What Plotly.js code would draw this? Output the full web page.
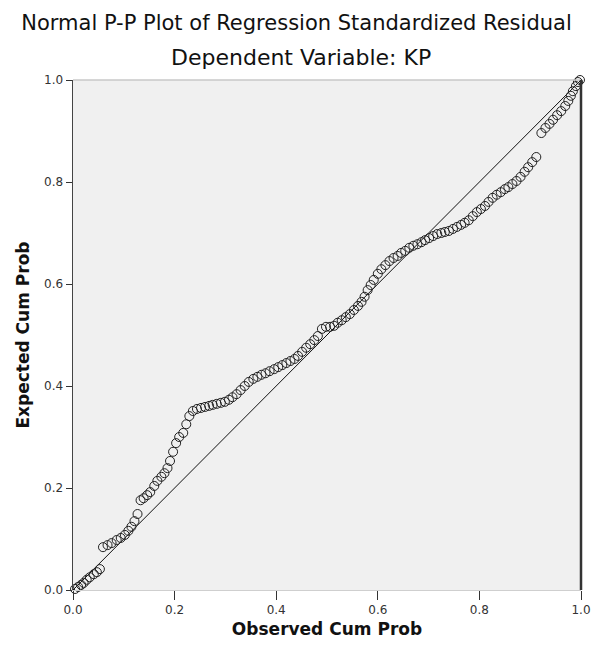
<!DOCTYPE html>
<html>
<head>
<meta charset="utf-8">
<script src="https://cdn.plot.ly/plotly-3.0.1.min.js"></script>
<style>html,body{margin:0;padding:0;background:#fff;}#chart{width:593px;height:652px;}</style>
</head>
<body>
<div id="chart"></div>
<script>
// Observed cumulative probability (x) and expected cumulative probability (y)
const observedCumProb = [
0.004,0.010,0.016,0.021,0.027,0.033,0.041,0.047,0.053,0.059,
0.068,0.076,0.086,0.094,0.102,0.109,0.115,0.121,0.127,0.133,
0.139,0.146,0.152,0.160,0.166,0.174,0.180,0.186,0.191,0.197,
0.203,0.209,0.217,0.223,0.229,0.236,0.244,0.252,0.260,0.268,
0.275,0.283,0.291,0.299,0.307,0.314,0.322,0.330,0.338,0.346,
0.355,0.363,0.371,0.379,0.387,0.396,0.404,0.412,0.420,0.428,
0.436,0.443,0.451,0.459,0.467,0.475,0.482,0.490,0.498,0.506,
0.514,0.521,0.529,0.537,0.545,0.553,0.561,0.568,0.574,0.580,
0.586,0.592,0.600,0.607,0.615,0.623,0.631,0.639,0.646,0.654,
0.662,0.670,0.678,0.686,0.693,0.701,0.709,0.717,0.725,0.732,
0.740,0.748,0.756,0.764,0.771,0.779,0.787,0.795,0.803,0.811,
0.818,0.826,0.834,0.842,0.850,0.857,0.865,0.873,0.881,0.889,
0.896,0.904,0.912,0.922,0.930,0.938,0.945,0.953,0.961,0.969,
0.975,0.980,0.984,0.990,0.994,0.998];
const expectedCumProb = [
0.002,0.006,0.010,0.014,0.020,0.025,0.031,0.035,0.041,0.084,
0.088,0.092,0.098,0.102,0.108,0.116,0.124,0.135,0.149,0.176,
0.180,0.186,0.192,0.204,0.214,0.222,0.229,0.239,0.253,0.271,
0.288,0.300,0.308,0.325,0.341,0.351,0.355,0.357,0.359,0.361,
0.363,0.365,0.367,0.369,0.373,0.378,0.384,0.392,0.400,0.408,
0.414,0.418,0.422,0.425,0.429,0.433,0.437,0.441,0.445,0.449,
0.453,0.459,0.467,0.475,0.482,0.490,0.498,0.512,0.516,0.516,
0.518,0.524,0.529,0.535,0.541,0.549,0.557,0.565,0.575,0.588,
0.598,0.608,0.620,0.629,0.637,0.645,0.651,0.655,0.661,0.665,
0.671,0.675,0.678,0.682,0.686,0.690,0.694,0.698,0.700,0.702,
0.704,0.708,0.712,0.716,0.720,0.725,0.733,0.741,0.747,0.753,
0.761,0.769,0.775,0.780,0.786,0.790,0.796,0.802,0.810,0.820,
0.829,0.839,0.849,0.896,0.906,0.914,0.922,0.931,0.939,0.949,
0.959,0.969,0.978,0.988,0.996,1.000];
// Reference (normal) line
const refLineX = [0, 1];
const refLineY = [0, 1];
const tickVals = [0, 0.2, 0.4, 0.6, 0.8, 1.0];
const tickText = ['0.0', '0.2', '0.4', '0.6', '0.8', '1.0'];

const FONT = '"DejaVu Sans", Arial, sans-serif';

const traces = [
  {
    x: refLineX, y: refLineY, type: 'scatter', mode: 'lines',
    line: {color: '#111', width: 1}, hoverinfo: 'skip', cliponaxis: false
  },
  {
    x: observedCumProb, y: expectedCumProb, type: 'scatter', mode: 'markers',
    marker: {symbol: 'circle-open', size: 9, color: '#222', line: {width: 1, color: '#222'}},
    cliponaxis: false
  }
];

const layout = {
  width: 593, height: 652,
  margin: {l: 73, r: 12, t: 80, b: 62},
  paper_bgcolor: '#ffffff',
  plot_bgcolor: '#f0f0f0',
  showlegend: false,
  font: {family: FONT, color: '#222'},
  title: {
    text: 'Normal P-P Plot of Regression Standardized Residual',
    font: {family: FONT, size: 21, color: '#111'},
    x: 0.5, xanchor: 'center', xref: 'container',
    y: 0.966, yanchor: 'middle', yref: 'container'
  },
  annotations: [
    {
      text: 'Dependent Variable: KP', xref: 'paper', yref: 'paper',
      x: 0.449, y: 1.045, xanchor: 'center', yanchor: 'middle', showarrow: false,
      font: {family: FONT, size: 22, color: '#111'}
    }
  ],
  xaxis: {
    range: [0, 1], tickvals: tickVals, ticktext: tickText,
    ticks: 'outside', ticklen: 9, tickwidth: 1, tickcolor: '#333',
    ticklabeloverflow: 'allow',
    showgrid: false, zeroline: false,
    showline: true, linecolor: '#cfcfcf', linewidth: 1,
    tickfont: {family: FONT, size: 12, color: '#333'},
    title: {text: '<b>Observed Cum Prob</b>', font: {family: FONT, size: 17, color: '#111'}, standoff: 6},
    fixedrange: true
  },
  yaxis: {
    range: [0, 1], tickvals: tickVals, ticktext: tickText,
    ticks: 'outside', ticklen: 6, tickwidth: 1, tickcolor: '#333',
    showgrid: false, zeroline: false,
    showline: true, linecolor: '#444', linewidth: 1.5,
    tickfont: {family: FONT, size: 12, color: '#333'},
    title: {text: '<b>Expected Cum Prob</b>', font: {family: FONT, size: 17, color: '#111'}, standoff: 10},
    fixedrange: true
  },
  shapes: [
    {type: 'line', xref: 'paper', yref: 'paper', x0: 0, x1: 1, y0: 1, y1: 1, line: {color: '#c8c8c8', width: 1.5}},
    {type: 'line', xref: 'paper', yref: 'paper', x0: 1, x1: 1, y0: 0, y1: 1, line: {color: '#333', width: 2.5}}
  ]
};

Plotly.newPlot('chart', traces, layout, {displayModeBar: false, staticPlot: true});
</script>
</body>
</html>
